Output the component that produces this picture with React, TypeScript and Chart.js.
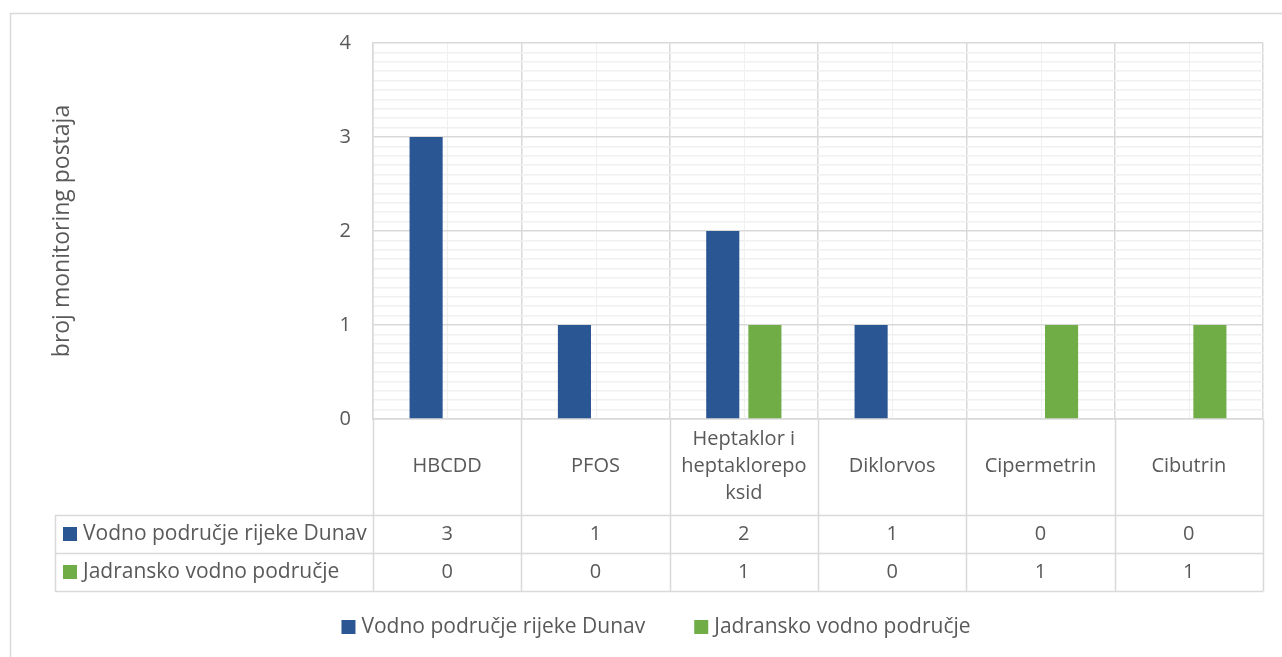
import React, { useEffect, useRef } from 'react';
import { Chart, registerables } from 'chart.js';

Chart.register(...registerables);

const categories = ['HBCDD', 'PFOS', 'Heptaklor i heptaklorepoksid', 'Diklorvos', 'Cipermetrin', 'Cibutrin'];
const categoryLabelLines = [
  ['', 'HBCDD', ''],
  ['', 'PFOS', ''],
  ['Heptaklor i', 'heptaklorepo', 'ksid'],
  ['', 'Diklorvos', ''],
  ['', 'Cipermetrin', ''],
  ['', 'Cibutrin', ''],
];
const seriesNames = ['Vodno područje rijeke Dunav', 'Jadransko vodno područje'];
const dunavValues = [3, 1, 2, 1, 0, 0];
const jadranValues = [0, 0, 1, 0, 1, 1];
const seriesColors = ['#2B5694', '#70AD47'];
const yTitle = 'broj monitoring postaja';
const yMin = 0;
const yMax = 4;

const FONT = "'Open Sans', sans-serif";
const TEXT = '#595959';
const GRID = '#d9d9d9';
const MINOR = '#f0f0f0';

const tablePlugin = {
  id: 'excelTable',
  beforeDraw(chart: any) {
    const { ctx, chartArea } = chart;
    const x = chart.scales.x;
    ctx.save();
    // outer chart frame
    ctx.strokeStyle = GRID;
    ctx.lineWidth = 1.5;
    ctx.beginPath();
    ctx.moveTo(10.5, 700);
    ctx.lineTo(10.5, 13.5);
    ctx.lineTo(1300, 13.5);
    ctx.stroke();
    // minor vertical gridlines at category centres
    ctx.strokeStyle = MINOR;
    ctx.lineWidth = 1;
    for (let i = 0; i < categories.length; i++) {
      const px = Math.round(x.getPixelForTick(i)) + 0.5;
      ctx.beginPath();
      ctx.moveTo(px, chartArea.top);
      ctx.lineTo(px, chartArea.bottom);
      ctx.stroke();
    }
    ctx.restore();
  },
  afterDraw(chart: any) {
    const { ctx, chartArea } = chart;
    const x = chart.scales.x;
    const n = categories.length;
    const catW = (chartArea.right - chartArea.left) / n;
    const tableLeft = 55;
    const catRowH = 96;
    const rowH = 38;
    const top0 = chartArea.bottom;
    const row1 = top0 + catRowH;
    const row2 = row1 + rowH;
    const row3 = row2 + rowH;
    const h = (v: number) => Math.round(v) + 0.5;
    ctx.save();
    ctx.strokeStyle = GRID;
    ctx.lineWidth = 1.5;
    ctx.beginPath();
    [row1, row2, row3].forEach((yy) => {
      ctx.moveTo(tableLeft, h(yy));
      ctx.lineTo(chartArea.right, h(yy));
    });
    ctx.moveTo(h(tableLeft), h(row1));
    ctx.lineTo(h(tableLeft), h(row3));
    for (let i = 0; i <= n; i++) {
      const bx = h(chartArea.left + i * catW);
      ctx.moveTo(bx, top0);
      ctx.lineTo(bx, h(row3));
    }
    ctx.stroke();

    const series = [dunavValues, jadranValues];
    const rowsY = [row1, row2];
    ctx.textBaseline = 'middle';
    series.forEach((vals, s) => {
      const cy = rowsY[s] + rowH / 2;
      ctx.fillStyle = seriesColors[s];
      ctx.fillRect(63, cy - 7, 14, 14);
      ctx.fillStyle = TEXT;
      ctx.font = `21px ${FONT}`;
      ctx.textAlign = 'left';
      ctx.fillText(seriesNames[s], 83, cy);
      ctx.font = `20px ${FONT}`;
      ctx.textAlign = 'center';
      vals.forEach((v, i) => {
        ctx.fillText(String(v), x.getPixelForTick(i), cy);
      });
    });

    // bottom legend
    ctx.font = `21px ${FONT}`;
    ctx.textAlign = 'left';
    const box = 14;
    const gapBoxText = 6;
    const gapItems = 49;
    const widths = seriesNames.map((t) => ctx.measureText(t).width);
    const total = widths.reduce((a, w) => a + box + gapBoxText + w, 0) + gapItems;
    let lx = 656 - total / 2;
    const ly = 627;
    seriesNames.forEach((t, s) => {
      ctx.fillStyle = seriesColors[s];
      ctx.fillRect(lx, ly - box / 2, box, box);
      ctx.fillStyle = TEXT;
      ctx.fillText(t, lx + box + gapBoxText, ly);
      lx += box + gapBoxText + widths[s] + gapItems;
    });
    ctx.restore();
  },
};

export default function App() {
  const ref = useRef<HTMLCanvasElement | null>(null);
  useEffect(() => {
    if (!ref.current) return;
    Chart.defaults.font.family = FONT;
    const chart = new Chart(ref.current, {
      type: 'bar',
      data: {
        labels: categoryLabelLines,
        datasets: [
          {
            label: seriesNames[0],
            data: dunavValues,
            backgroundColor: seriesColors[0],
            borderWidth: 0,
            categoryPercentage: 0.568,
            barPercentage: 0.786,
          },
          {
            label: seriesNames[1],
            data: jadranValues,
            backgroundColor: seriesColors[1],
            borderWidth: 0,
            categoryPercentage: 0.568,
            barPercentage: 0.786,
          },
        ],
      },
      options: {
        responsive: false,
        animation: false,
        layout: { padding: { top: 43, right: 19, bottom: 66, left: 0 } },
        plugins: {
          legend: { display: false },
          tooltip: { enabled: false },
        },
        scales: {
          x: {
            offset: true,
            grid: { offset: true, color: GRID, lineWidth: 1.5, drawTicks: false },
            border: { color: GRID, width: 1.5 },
            ticks: {
              autoSkip: false,
              maxRotation: 0,
              minRotation: 0,
              padding: 7,
              color: TEXT,
              font: { size: 20, family: FONT, lineHeight: '27px' },
            },
            afterFit: (scale: any) => {
              scale.height = 172;
            },
          },
          y: {
            min: yMin,
            max: yMax,
            grid: {
              drawTicks: false,
              lineWidth: 1.5,
              color: (c: any) =>
                Math.abs(c.tick.value - Math.round(c.tick.value)) < 1e-6 ? GRID : MINOR,
            },
            border: { color: GRID, width: 1.5 },
            ticks: {
              stepSize: 0.1,
              autoSkip: false,
              padding: 22,
              color: TEXT,
              font: { size: 20, family: FONT },
              callback: (v: any) =>
                Math.abs(v - Math.round(v)) < 1e-6 ? String(Math.round(v)) : '',
            },
            title: {
              display: true,
              text: yTitle,
              color: TEXT,
              font: { size: 23, family: FONT },
              padding: { top: 49, bottom: 0 },
            },
            afterFit: (scale: any) => {
              scale.width = 373;
            },
          },
        },
      },
      plugins: [tablePlugin],
    });
    return () => chart.destroy();
  }, []);
  return (
    <div style={{ position: 'fixed', left: 0, top: 0, width: 1282, height: 657, background: '#fff' }}>
      <canvas ref={ref} width={1282} height={657} style={{ display: 'block' }} />
    </div>
  );
}
